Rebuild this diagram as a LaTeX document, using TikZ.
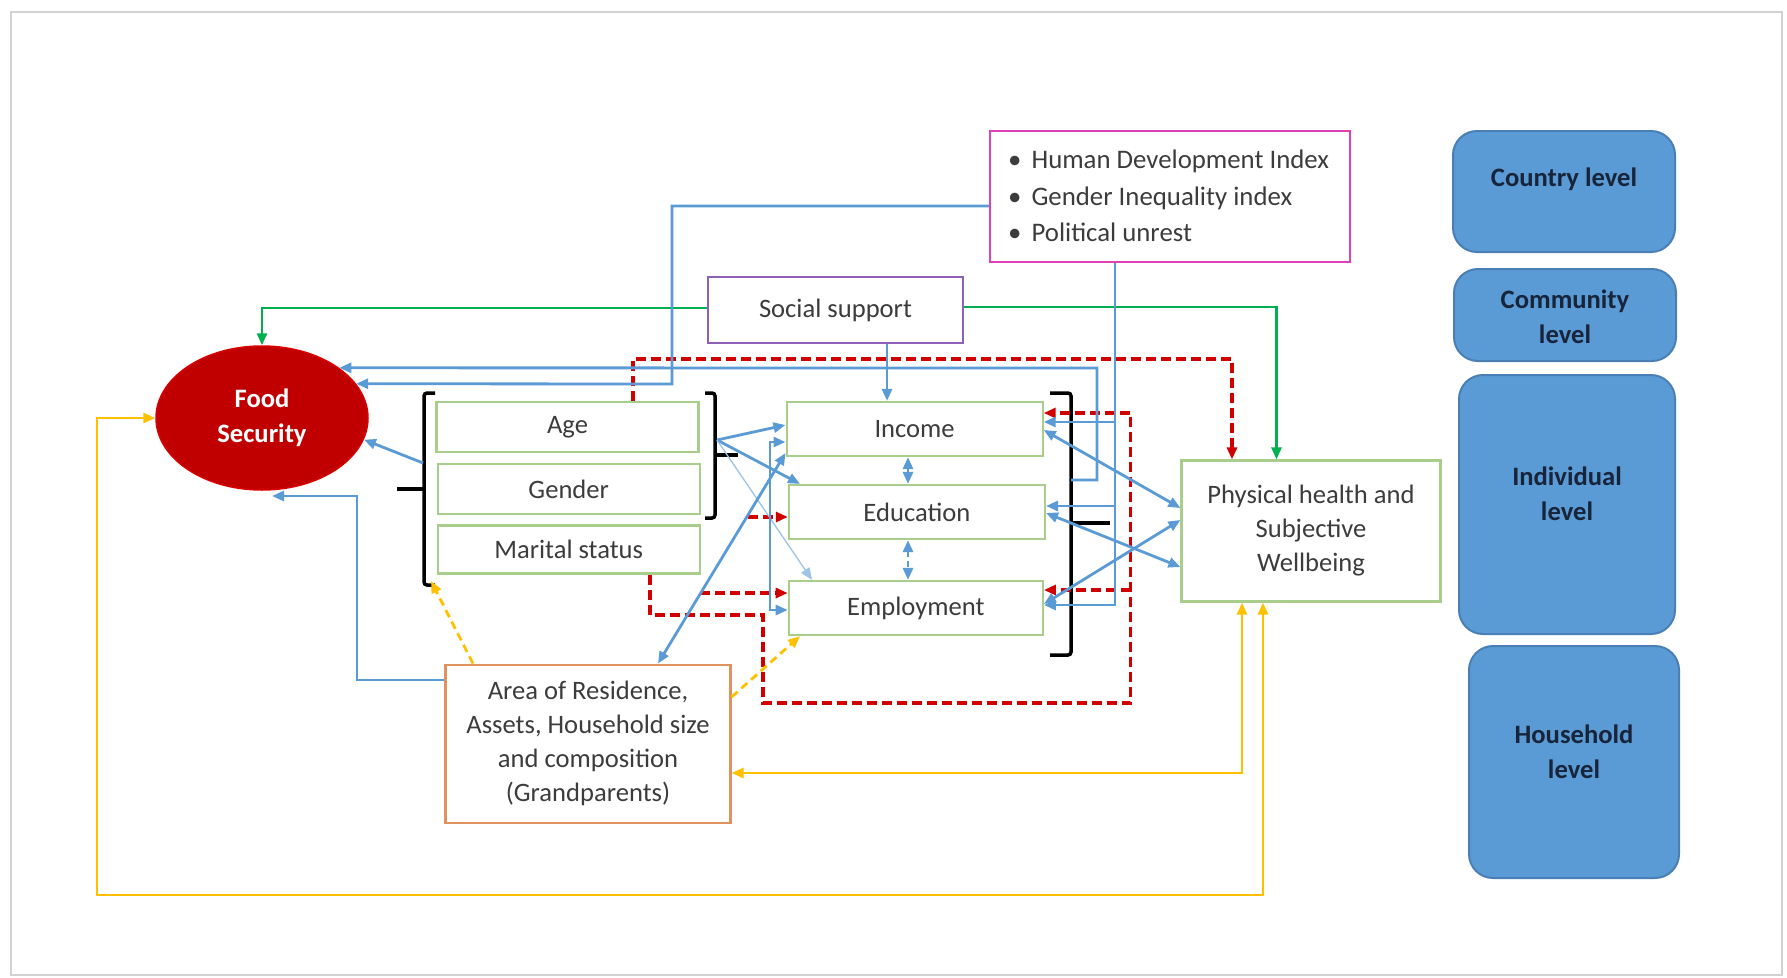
\documentclass[tikz,border=0pt]{standalone}
\usepackage{fontspec}
\setmainfont{Carlito}
\usetikzlibrary{arrows.meta,shapes.geometric}

\definecolor{lnblue}{HTML}{5B9BD5}
\definecolor{lnred}{HTML}{D00000}
\definecolor{lngreen}{HTML}{00B050}
\definecolor{lnyellow}{HTML}{FFC000}
\definecolor{bxgreen}{HTML}{A9CD8A}
\definecolor{bxpink}{HTML}{E040B8}
\definecolor{bxpurple}{HTML}{8E60B8}
\definecolor{bxorange}{HTML}{E0925E}
\definecolor{lvlfill}{HTML}{5B9BD5}
\definecolor{lvledge}{HTML}{4A7FB5}
\definecolor{lvltext}{HTML}{17243A}
\definecolor{fsred}{HTML}{C00000}
\definecolor{txt}{HTML}{3C3C3C}

\tikzset{
  >={Triangle[length=12pt,width=10pt]},
  box/.style={draw, line width=2.2pt, rectangle, inner sep=0pt, align=center,
    text=txt, font=\fontsize{26.6}{34}\selectfont},
  varbox/.style={box, draw=bxgreen},
  lvl/.style={draw=lvledge, fill=lvlfill, line width=2pt, rounded corners=24pt,
    rectangle, inner sep=0pt},
  lvllabel/.style={text=lvltext, font=\bfseries\fontsize{26.6}{35}\selectfont, align=center},
  blueln/.style={draw=lnblue, line width=2.8pt},
  redln/.style={draw=lnred, line width=3.4pt, dash pattern=on 10pt off 5pt},
  greenln/.style={draw=lngreen, line width=2.8pt},
  yelln/.style={draw=lnyellow, line width=2.8pt},
  yeldash/.style={draw=lnyellow, line width=2.8pt, dash pattern=on 8pt off 5pt},
  brack/.style={draw=black, line width=3.5pt, rounded corners=3pt},
}

\begin{document}
\begin{tikzpicture}[x=1pt,y=-1pt]
\useasboundingbox (0,0) rectangle (1787,977);
% page frame
\draw[gray!35, line width=2.5pt] (11,12) rectangle (1782,975);

% ---- nodes ----
\node[ellipse, fill=fsred, draw=red!85!black, line width=1.5pt, minimum width=212pt,
  minimum height=144pt, inner sep=0pt, text=white, align=center,
  font=\bfseries\fontsize{26.6}{35}\selectfont] (food) at (262,418) {Food\\Security};

\node[box, draw=bxpink, minimum width=360pt, minimum height=131pt] (hdi) at (1170,196.5) {};
\node[text=txt, font=\fontsize{26.8}{36.5}\selectfont, align=left, anchor=west, inner sep=0pt]
  (hdilist) at (1008,196) {\textbullet\hspace{10pt}Human Development Index\\
  \textbullet\hspace{10pt}Gender Inequality index\\
  \textbullet\hspace{10pt}Political unrest};

\node[box, draw=bxpurple, minimum width=255pt, minimum height=66pt] (ss) at (835.5,310) {Social support};

\node[varbox, minimum width=262pt, minimum height=50pt] (age) at (567.5,427) {Age};
\node[varbox, minimum width=262pt, minimum height=50pt] (gender) at (568.7,489) {Gender};
\node[varbox, minimum width=262pt, minimum height=48pt] (marital) at (568.7,549.4) {Marital status};

\node[varbox, minimum width=256pt, minimum height=54pt] (income) at (914.6,429) {Income};
\node[varbox, minimum width=256pt, minimum height=54pt] (education) at (916.9,512) {Education};
\node[varbox, minimum width=254pt, minimum height=54pt] (employment) at (915.8,608) {Employment};

\node[varbox, minimum width=259pt, minimum height=141pt] (phys) at (1311,531)
  {Physical health and\\Subjective\\Wellbeing};

\node[box, draw=bxorange, minimum width=285pt, minimum height=158pt] (area) at (588,743.6)
  {Area of Residence,\\Assets, Household size\\and composition\\(Grandparents)};

% level panels
\node[lvl, minimum width=222pt, minimum height=121pt] (country) at (1564,191.5) {};
\node[lvllabel] (countryT) at (1564,179) {Country level};
\node[lvl, minimum width=222pt, minimum height=92pt] (community) at (1565,315) {};
\node[lvllabel] (communityT) at (1565,317) {Community\\level};
\node[lvl, minimum width=216pt, minimum height=259pt] (individual) at (1567,504.5) {};
\node[lvllabel] (individualT) at (1567,494) {Individual\\level};
\node[lvl, minimum width=210pt, minimum height=232pt] (household) at (1574,762) {};
\node[lvllabel] (householdT) at (1574,752) {Household\\level};

% ---- brackets ----
\coordinate (lbrmid) at (423,463);
\coordinate (lbrbot) at (431,581);
\coordinate (agbr) at (717,440);
\coordinate (ieebr) at (1071,480);
\draw[brack] (435,393) -- (424,393) -- (424,585) -- (435,585);
\draw[brack] (397,489) -- (424,489);
\draw[brack] (705,393) -- (715,393) -- (715,518) -- (705,518);
\draw[brack] (715,455) -- (738,455);
\draw[brack] (1050,393) -- (1071,393) -- (1071,655) -- (1050,655);
\draw[brack] (1071,523) -- (1110,523);

% ---- green: social support ----
\draw[greenln,->] (ss.west |- 0,308) -| (food.north);
\draw[greenln,->] (ss.east |- 0,307) -| (phys.north -| 1276.5,0);

% ---- red dashed ----
\draw[redln,->] (age.north -| 633,0) -- (633,359) -| (phys.north -| 1232,0);
\draw[redln,->] (marital.south -| 650,0) -- (650,615) -| (763,703) -| (1130.6,413)
  -- (income.east |- 0,413);
\draw[redln,->] (1130.6,590) -- (employment.east |- 0,590);
\coordinate (redA) at (748,517);
\coordinate (redB) at (700,593);
\draw[redln,->] (redA) -- (education.west |- 0,517);
\draw[redln,->] (redB) -- (employment.west |- 0,593);

% ---- blue ----
\draw[blueln,->] (ss.south -| 887,0) -- (income.north -| 887,0);
\draw[blueln,->] (hdi.west |- 0,206) -| (672,384) -- (food.20);
\draw[blueln,->] (ieebr) -- (1097,480) -- (1097,368) -- (food.33);
\draw[blueln,->] (hdi.south -| 1115,0) -- (1115,605) -- (employment.east |- 0,605);
\draw[blueln,->] (1115,506) -- (education.east |- 0,506);
\draw[blueln,->] (1115,422) -- (income.east |- 0,422);
\draw[blueln,<->,dash pattern=on 6pt off 4pt] (income.south -| 908,0) -- (education.north -| 908,0);
\draw[blueln,<->,dash pattern=on 6pt off 4pt] (education.south -| 908,0) -- (employment.north -| 908,0);
\draw[blueln,->] (agbr) -- (income.west |- 0,425);
\draw[blueln,->] (agbr) -- (education.north -| 800,0);
\draw[draw=lnblue!60, line width=1.3pt, ->] (agbr) -- (employment.north -| 812,0);
\draw[blueln,<->] (area.north -| 658,0) -- (income.west |- 0,453);
\draw[blueln,<->] (income.west |- 0,442) -- (770,442) |- (employment.west |- 0,610);
\draw[blueln,->] (lbrmid) -- (food.-12);
\coordinate (fsbot) at (272,496);
\draw[blueln,->] (area.west |- 0,680) -| (357,496) -- (fsbot);
\draw[blueln,<->] (income.east |- 0,430) -- (phys.west |- 0,508);
\draw[blueln,<->] (education.east |- 0,513) -- (phys.west |- 0,567);
\draw[blueln,<->] (employment.east |- 0,604) -- (phys.west |- 0,520);

% ---- yellow ----
\draw[yelln,<->] (food.west) -| (97,895) -| (phys.south -| 1263,0);
\draw[yelln,<->] (area.east |- 0,773) -| (phys.south -| 1242,0);
\draw[yeldash,->] (area.north -| 473,0) -- (lbrbot);
\draw[yeldash,->] (area.east |- 0,697) -- (employment.south -| 800,0);
\end{tikzpicture}
\end{document}
